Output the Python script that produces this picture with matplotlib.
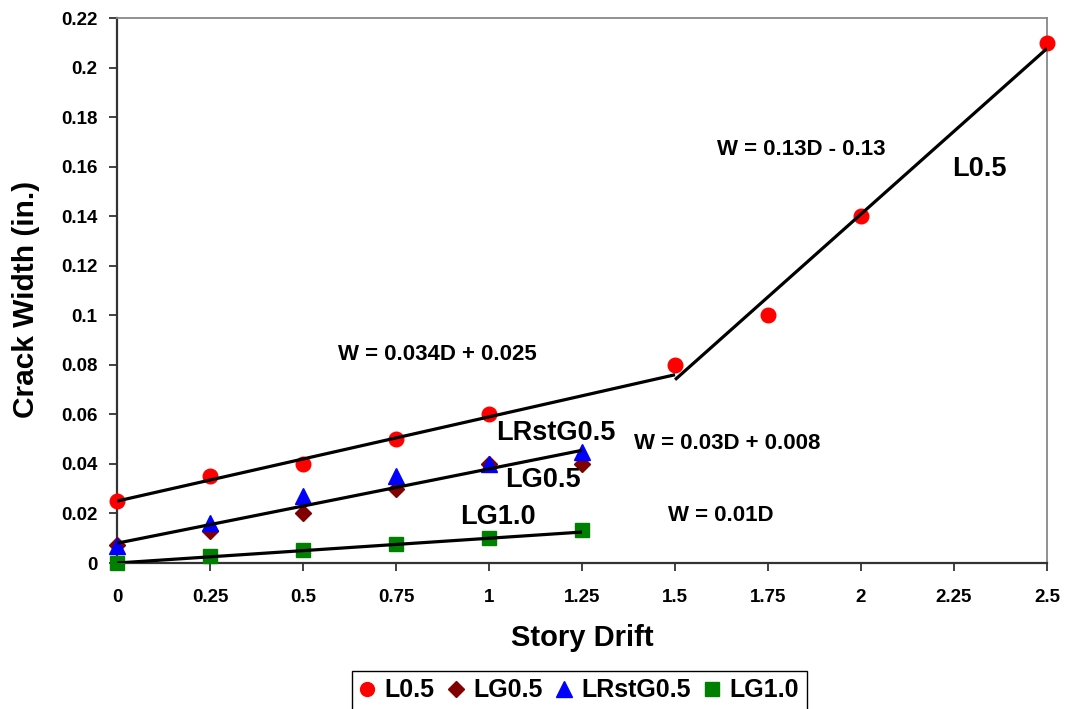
import numpy as np
import matplotlib
matplotlib.use("Agg")
import matplotlib.pyplot as plt
from matplotlib.ticker import FuncFormatter

plt.rcParams['font.family'] = ['Liberation Sans', 'DejaVu Sans']
plt.rcParams['font.weight'] = 'bold'

# Measured crack widths (in.) versus story drift
drift_l05 = [0, 0.25, 0.5, 0.75, 1.0, 1.5, 1.75, 2.0, 2.5]
width_l05 = [0.025, 0.035, 0.040, 0.050, 0.060, 0.080, 0.100, 0.140, 0.210]
drift_g = [0, 0.25, 0.5, 0.75, 1.0, 1.25]
width_lg05 = [0.0073, 0.013, 0.020, 0.030, 0.040, 0.040]
width_lrstg05 = [0.007, 0.016, 0.027, 0.035, 0.040, 0.045]
width_lg10 = [0.0, 0.0027, 0.0052, 0.0077, 0.0102, 0.0133]

series_names = ['L0.5', 'LG0.5', 'LRstG0.5', 'LG1.0']

# Linear trend equations (slope, intercept, drift range)
eq_low = (0.034, 0.025, 0.0, 1.5)
eq_mid = (0.03, 0.008, 0.0, 1.25)
eq_g10 = (0.01, 0.0, 0.0, 1.25)

x_ticks = [0, 0.25, 0.5, 0.75, 1, 1.25, 1.5, 1.75, 2, 2.25, 2.5]
y_ticks = [0, 0.02, 0.04, 0.06, 0.08, 0.1, 0.12, 0.14, 0.16, 0.18, 0.2, 0.22]

fig = plt.figure(figsize=(10.67, 7.09), dpi=100)
ax = fig.add_axes([0.1097, 0.2059, 0.8716, 0.7687])

mk = dict(clip_on=False, zorder=3, linestyle='none')
h1, = ax.plot(drift_l05, width_l05, marker='o', ms=10.5, color='#FF0000', label=series_names[0], **mk)
h2, = ax.plot(drift_g, width_lg05, marker='D', ms=8.5, color='#800000', label=series_names[1], **mk)
h3, = ax.plot(drift_g, width_lrstg05, marker='^', ms=11.5, color='#0000FF', label=series_names[2], **mk)
h4, = ax.plot(drift_g, width_lg10, marker='s', ms=10.5, color='#008000', label=series_names[3], **mk)

line_kw = dict(color='black', lw=2.3, zorder=4, solid_capstyle='butt')
for slope, icpt, x0, x1 in (eq_low, eq_mid, eq_g10):
    xs = np.array([x0, x1])
    ax.plot(xs, slope * xs + icpt, **line_kw)

# Steep branch of L0.5: least-squares fit of the points beyond 1.5 drift
hx = np.array([d for d in drift_l05 if d >= 1.5])
hy = np.array([w for d, w in zip(drift_l05, width_l05) if d >= 1.5])
k, b = np.polyfit(hx, hy, 1)
xs = np.array([1.5, 2.5])
ax.plot(xs, k * xs + b, **line_kw)

ax.set_xlim(0, 2.5)
ax.set_ylim(0, 0.22)
ax.set_xticks(x_ticks)
ax.set_yticks(y_ticks)
fmt = FuncFormatter(lambda v, p: f"{v:g}")
ax.xaxis.set_major_formatter(fmt)
ax.yaxis.set_major_formatter(fmt)
ax.tick_params(axis='both', direction='out', length=6, width=1.3, color='#333333', labelsize=13.5)
ax.tick_params(axis='x', pad=13)
ax.tick_params(axis='y', pad=8)

for s in ('left', 'bottom'):
    ax.spines[s].set_color('#333333')
    ax.spines[s].set_linewidth(1.6)
for s in ('top', 'right'):
    ax.spines[s].set_color('#888888')
    ax.spines[s].set_linewidth(1.3)

ax.set_xlabel('Story Drift', fontsize=21, fontweight='bold')
ax.set_ylabel('Crack Width (in.)', fontsize=21.5, fontweight='bold')
ax.xaxis.set_label_coords(0.5, -0.111)
ax.yaxis.set_label_coords(-0.083, 0.484)

eq_fs = 16
ax.text(0.86, 0.084, 'W = 0.034D + 0.025', fontsize=eq_fs, ha='center', va='center')
ax.text(1.84, 0.167, 'W = 0.13D - 0.13', fontsize=eq_fs, ha='center', va='center')
ax.text(1.64, 0.0484, 'W = 0.03D + 0.008', fontsize=eq_fs, ha='center', va='center')
ax.text(1.624, 0.019, 'W = 0.01D', fontsize=eq_fs, ha='center', va='center')

lab_fs = 19.5
ax.text(2.317, 0.159, 'L0.5', fontsize=lab_fs, ha='center', va='center')
ax.text(1.18, 0.0525, 'LRstG0.5', fontsize=lab_fs, ha='center', va='center')
ax.text(1.145, 0.0335, 'LG0.5', fontsize=lab_fs, ha='center', va='center')
ax.text(1.025, 0.0186, 'LG1.0', fontsize=lab_fs, ha='center', va='center')

leg = fig.legend(handles=[h1, h2, h3, h4], loc='upper center', bbox_to_anchor=(0.543, 0.0536),
                 ncol=4, fontsize=18, frameon=True, fancybox=False, framealpha=1,
                 edgecolor='black', handletextpad=0.4, columnspacing=0.55,
                 handlelength=0.6, borderpad=0.3, borderaxespad=0.0, markerscale=0.95)
leg.get_frame().set_linewidth(1.0)

fig.savefig('out.png', dpi=100)
